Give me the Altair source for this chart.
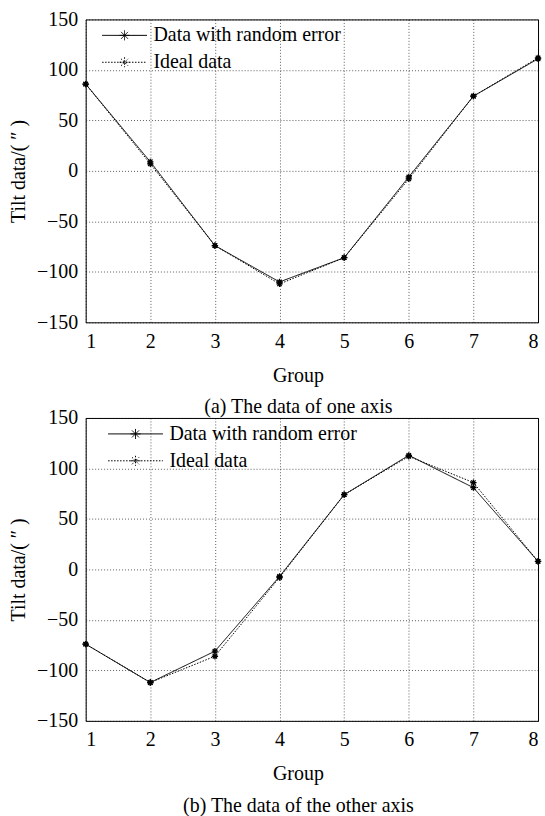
import altair as alt
import pandas as pd

groups = [1, 2, 3, 4, 5, 6, 7, 8]
series_names = ["Data with random error", "Ideal data"]

a_error = [86, 9, -74, -110, -86, -6, 74, 111]
a_ideal = [86, 7, -74, -112, -86, -8, 74, 112]

b_error = [-74, -112, -81, -7, 74, 113, 81, 8]
b_ideal = [-74, -112, -86, -8, 74, 112, 86, 8]

y_ticks = [-150, -100, -50, 0, 50, 100, 150]
captions = ["(a) The data of one axis", "(b) The data of the other axis"]

FONT = "Liberation Serif"
FS = 20
ASTERISK = "M-1,0L1,0M0,-1L0,1M-0.7,-0.7L0.7,0.7M-0.7,0.7L0.7,-0.7"


def leg_symbol(arm):
    d = round(arm * 0.7, 3)
    return (f"M-1,0L1,0M0,-{arm}L0,{arm}M-{d},-{d}L{d},{d}"
            f"M-{d},{d}L{d},-{d}M-{arm},0L{arm},0")


def make_df(err, ideal):
    rows = []
    for g, v in zip(groups, err):
        rows.append({"group": g, "value": v, "series": series_names[0]})
    for g, v in zip(groups, ideal):
        rows.append({"group": g, "value": v, "series": series_names[1]})
    return pd.DataFrame(rows)


def panel(err, ideal, caption, legend_x, sym_len, width):
    df = make_df(err, ideal)
    x = alt.X("group:Q",
              scale=alt.Scale(domain=[1, 8], nice=False, zero=False),
              axis=alt.Axis(values=groups, format="d",
                            title=["Group", caption],
                            titleX=213, titleLineHeight=32,
                            labelPadding=9, titlePadding=14))
    y = alt.Y("value:Q",
              scale=alt.Scale(domain=[-150, 150], nice=False, zero=False),
              axis=alt.Axis(values=y_ticks, title="Tilt data/( \u2033 )",
                            titlePadding=8))
    dash = alt.StrokeDash(
        "series:N",
        scale=alt.Scale(domain=series_names, range=[[1, 0], [1.5, 1.5]]),
        legend=alt.Legend(title=None, orient="none", legendX=legend_x,
                          legendY=6, symbolType=leg_symbol(round(5.0 / sym_len * 2, 3)),
                          symbolSize=sym_len * sym_len,
                          symbolStrokeColor="black", symbolStrokeWidth=1,
                          symbolFillColor="transparent",
                          labelFont=FONT, labelFontSize=FS, labelLimit=0,
                          labelColor="black", rowPadding=7, labelOffset=6,
                          clipHeight=20, padding=0))
    lines = alt.Chart(df).mark_line(color="black", strokeWidth=1).encode(
        x=x, y=y, strokeDash=dash, detail="series:N")
    pts = alt.Chart(df).mark_point(shape=ASTERISK, filled=False,
                                   color="black", size=40,
                                   strokeWidth=1.3, opacity=1).encode(
        x="group:Q", y="value:Q")
    return alt.layer(lines, pts).properties(width=width, height=304)


top = panel(a_error, a_ideal, captions[0], 16, 45, 454)
bottom = panel(b_error, b_ideal, captions[1], 22, 55, 454)

chart = alt.vconcat(top, bottom, spacing=96, bounds="flush").resolve_legend(
    strokeDash="independent").resolve_scale(strokeDash="independent").properties(
    padding={"left": 8, "top": 7, "right": 0, "bottom": 0},
    background="white"
).configure_view(stroke="black", strokeWidth=1).configure_axis(
    grid=True, gridColor="black", gridDash=[1, 2], gridWidth=0.8,
    gridOpacity=0.8, domain=False, ticks=False,
    labelFont=FONT, labelFontSize=FS, labelColor="black", labelPadding=7,
    titleFont=FONT, titleFontSize=FS, titleColor="black", titleFontWeight="normal",
).configure_axisY(labelPadding=8)

chart.save("out.html", embed_options={"renderer": "svg", "actions": False})
